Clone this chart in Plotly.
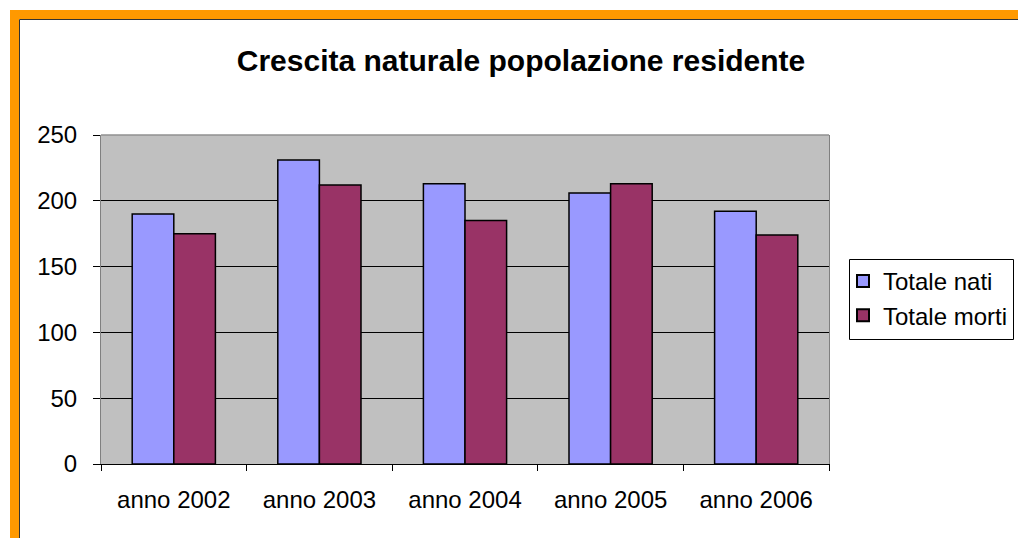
import plotly.graph_objects as go

categories = ["anno 2002", "anno 2003", "anno 2004", "anno 2005", "anno 2006"]
totale_nati = [190, 231, 213, 206, 192]
totale_morti = [175, 212, 185, 213, 174]
y_ticks = [0, 50, 100, 150, 200, 250]

W, H = 1018, 538
L, R, T, B = 101, 829, 135, 464
pw, ph = R - L, B - T

def px_x(x):
    return (x - L) / pw

def px_y(y):
    return (B - y) / ph

fig = go.Figure()
fig.add_trace(go.Bar(x=categories, y=totale_nati, name="Totale nati",
                     marker=dict(color="#9999FF", line=dict(color="black", width=1.5))))
fig.add_trace(go.Bar(x=categories, y=totale_morti, name="Totale morti",
                     marker=dict(color="#993366", line=dict(color="black", width=1.5))))

font = "Liberation Sans, Arial, sans-serif"
fig.update_layout(
    width=W, height=H,
    margin=dict(l=L, r=W - R, t=T, b=H - B, pad=0, autoexpand=False),
    paper_bgcolor="white", plot_bgcolor="#C0C0C0",
    barmode="group", bargap=0.4286, bargroupgap=0,
    font=dict(family=font, size=24, color="black"),
    title=dict(text="<b>Crescita naturale popolazione residente</b>",
               font=dict(size=30, family=font, color="black"),
               x=521 / W, xref="container", xanchor="center",
               y=1 - 60 / H, yref="container", yanchor="middle"),
    showlegend=True,
    legend=dict(x=px_x(843), y=px_y(259), xanchor="left", yanchor="top",
                borderwidth=0, bgcolor="rgba(0,0,0,0)",
                font=dict(size=24, family=font), tracegroupgap=0,
                itemsizing="constant"),
    xaxis=dict(showgrid=False, showline=True, linecolor="black", linewidth=1,
               ticks="outside", ticklen=6, tickcolor="black", tickson="boundaries",
               ticklabelstandoff=14, tickfont=dict(size=24), automargin=False),
    yaxis=dict(range=[0, 250], tickvals=y_ticks, showgrid=True, gridcolor="black",
               gridwidth=1, showline=True, linecolor="#808080", linewidth=1, mirror=True,
               ticks="outside", ticklen=7, tickcolor="black", zeroline=False,
               ticklabelstandoff=11, tickfont=dict(size=24), automargin=False),
    shapes=[
        dict(type="rect", xref="paper", yref="paper", x0=px_x(10), x1=px_x(1030),
             y0=px_y(19), y1=px_y(10), fillcolor="#FF9900", line=dict(width=0)),
        dict(type="rect", xref="paper", yref="paper", x0=px_x(10), x1=px_x(19),
             y0=px_y(550), y1=px_y(10), fillcolor="#FF9900", line=dict(width=0)),
        dict(type="line", xref="paper", yref="paper", x0=px_x(19.5), x1=px_x(1030),
             y0=px_y(19.5), y1=px_y(19.5), line=dict(color="#333333", width=1)),
        dict(type="line", xref="paper", yref="paper", x0=px_x(19.5), x1=px_x(19.5),
             y0=px_y(19.5), y1=px_y(550), line=dict(color="#333333", width=1)),
        dict(type="line", xref="paper", yref="paper", x0=0, x1=1, y0=1, y1=1,
             layer="above", line=dict(color="#909090", width=1.5)),
        # legend frame
        dict(type="rect", xref="paper", yref="paper", x0=px_x(849.5), x1=px_x(1013.5),
             y0=px_y(339.5), y1=px_y(259.5), fillcolor="white",
             line=dict(color="black", width=1)),
    ],
)

fig.write_html(
    "out.html",
    config={"displayModeBar": False},
    post_script="document.body.style.margin='0';document.body.style.overflow='hidden';",
)
